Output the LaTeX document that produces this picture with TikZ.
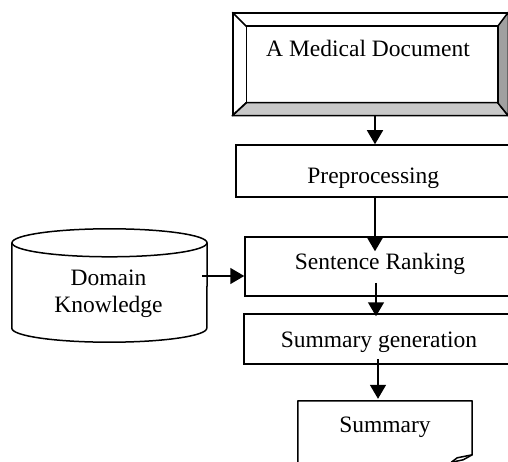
\documentclass[tikz,border=0pt]{standalone}
\usepackage{fontspec}
\setmainfont{Liberation Serif}
\usetikzlibrary{arrows.meta,calc}
\definecolor{bevlight}{RGB}{200,200,200}
\definecolor{bevdark}{RGB}{160,160,160}
\begin{document}
\begin{tikzpicture}[x=1pt,y=-1pt,
  lw/.style={line width=1.5pt},
  boxnode/.style={draw,line width=1.5pt,rectangle,inner sep=0pt,fill=white},
  ghost/.style={rectangle,inner sep=0pt},
  lbl/.style={font=\fontsize{23.5pt}{28pt}\selectfont,inner sep=0pt,anchor=base},
  arr/.style={line width=1.5pt,-{Triangle[length=14pt,width=16pt]}}]
\useasboundingbox (0,0) rectangle (508,462);
\clip (0,0) rectangle (508,462);
\fill[white] (0,0) rectangle (508,462);

% Medical document (bevelled box)
\node[boxnode, minimum width=274.5pt, minimum height=102pt] (doc) at (370.25,64) {};
\coordinate (dNW) at ($(doc.north west)+(14,14)$);
\coordinate (dNE) at ($(doc.north east)+(-10.5,14)$);
\coordinate (dSW) at ($(doc.south west)+(14,-13)$);
\coordinate (dSE) at ($(doc.south east)+(-10.5,-13)$);
\draw[lw, fill=bevlight, line join=round] (doc.south west) -- (doc.south east) -- (dSE) -- (dSW) -- cycle;
\draw[lw, fill=bevdark, line join=round] (doc.north east) -- (doc.south east) -- (dSE) -- (dNE) -- cycle;
\draw[lw] (dNW) rectangle (dSE);
\draw[lw] (doc.north west) -- (dNW);
\draw[lw] (doc.south west) -- (dSW);
\node[lbl] (doctext) at (368,57) {A Medical Document};

% Preprocessing
\node[boxnode, minimum width=274pt, minimum height=52pt] (pre) at (373,171) {};
\node[lbl] (pretext) at (373.3,184) {Preprocessing};

% Sentence Ranking
\node[boxnode, minimum width=270pt, minimum height=59pt] (sr) at (380,266.5) {};
\node[lbl] (srtext) at (380,269.5) {Sentence Ranking};

% Summary generation
\node[boxnode, minimum width=270pt, minimum height=50pt] (sg) at (379,339) {};
\node[lbl] (sgtext) at (379,347) {Summary generation};

% Summary document
\node[ghost, minimum width=174pt, minimum height=69pt] (sum) at (385,435.5) {};
\draw[lw, fill=white, line join=round] (sum.south west) -- (sum.north west) -- (sum.north east) -- ($(sum.north east)+(0,54)$) -- ($(sum.north east)+(-15,57)$) -- ($(sum.north east)+(-21,61.5)$);
\draw[lw, line join=round] ($(sum.north east)+(-21,61.5)$) -- ($(sum.north east)+(-9,59)$) -- ($(sum.north east)+(0,54)$);
\node[lbl] (sumtext) at (385,432) {Summary};

% Domain Knowledge cylinder
\node[ghost, minimum width=195pt, minimum height=113pt] (dk) at (109.5,285.5) {};
\draw[lw, fill=white] ($(dk.north west)+(0,14)$) -- ($(dk.south west)+(0,-14)$)
  arc[start angle=180, end angle=0, x radius=97.5, y radius=14] -- ($(dk.north east)+(0,14)$);
\draw[lw, fill=white] ($(dk.north)+(0,14)$) ellipse [x radius=97.5, y radius=14];
\node[lbl] (dktext1) at (108.5,285) {Domain};
\node[lbl] (dktext2) at (108.5,312) {Knowledge};

% Connectors
\draw[arr] ($(doc.south)+(4.75,0)$) -- ($(pre.north)+(2,0)$);
\draw[arr] ($(pre.south)+(2,0)$) -- ($(sr.north)+(-5,15)$);
\draw[arr] ($(sr.south)+(-4,-14)$) -- ($(sg.north)+(-3,3)$);
\draw[arr] ($(sg.south)+(-1,-6)$) -- ($(sum.north)+(-7,-2)$);
\draw[arr] ($(dk.east)+(-5,-9.5)$) -- ($(sr.west)+(0,9.5)$);
\end{tikzpicture}
\end{document}
